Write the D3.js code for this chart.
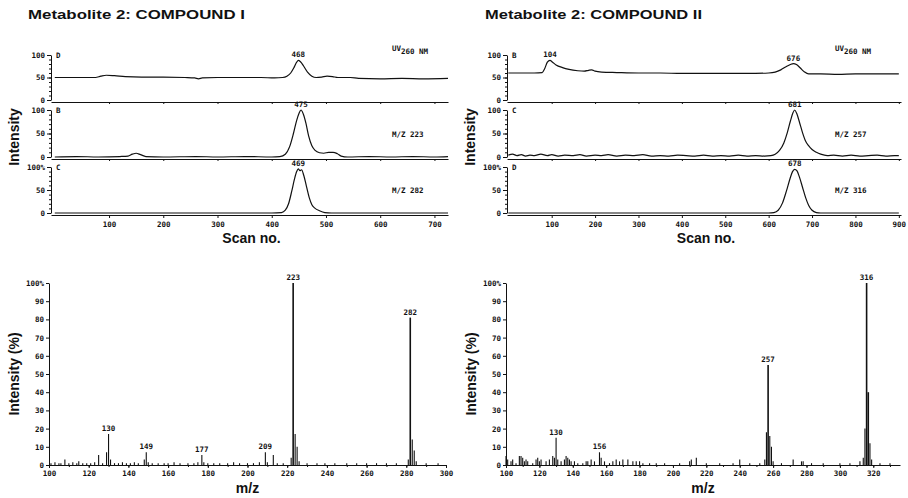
<!DOCTYPE html>
<html>
<head>
<meta charset="utf-8">
<script src="https://cdn.jsdelivr.net/npm/d3@7"></script>
<style>
  body { margin: 0; background: #fff; }
  svg { display: block; }
  .tk { font-family: "DejaVu Sans Mono", monospace; font-weight: bold; font-size: 7.5px; fill: #111; }
  .ttl { font-family: "Liberation Sans", Arial, sans-serif; font-weight: bold; font-size: 13px; fill: #111; }
  .axt { font-family: "Liberation Sans", Arial, sans-serif; font-weight: bold; font-size: 14px; fill: #111; }
</style>
</head>
<body>
<svg id="fig" width="908" height="498"></svg>
<script>
// ---- data ----
const titles = ['Metabolite 2: COMPOUND I', 'Metabolite 2: COMPOUND II'];

const scanTicks1 = [100, 200, 300, 400, 500, 600, 700];
const scanTicks2 = [100, 200, 300, 400, 500, 600, 700, 800, 900];
const pctTicks = [0, 50, 100];
const mzTicks1 = [100, 120, 140, 160, 180, 200, 220, 240, 260, 280, 300];
const mzTicks2 = [100, 120, 140, 160, 180, 200, 220, 240, 260, 280, 300, 320];
const relTicks = [0, 10, 20, 30, 40, 50, 60, 70, 80, 90, 100];

// compound I chromatograms [scan, intensity]
const c1Uv = [[0,50],[30,50],[60,50],[75,50],[85,53],[95,55],[110,54],[130,52],[160,51],[200,51],[240,50],[258,49],[265,47],[272,49],[300,50],[340,50],[380,50],[405,49],[420,50],[428,53],[435,60],[441,72],[446,84],[449,88],[453,85],[459,75],[466,62],[474,53],[482,50],[492,51],[502,53],[512,52],[522,50],[545,50],[560,48],[600,47],[640,48],[680,47],[725,48]];
const c1Mz223 = [[0,0],[40,1],[80,0],[120,1],[135,2],[143,6],[150,8],[158,5],[168,1],[200,0],[260,1],[300,0],[350,1],[400,0],[415,1],[425,6],[433,22],[440,50],[446,78],[450,92],[454,100],[458,92],[463,72],[468,45],[474,24],[480,14],[488,9],[496,8],[505,10],[513,10],[521,7],[528,2],[540,0],[580,1],[620,0],[660,1],[700,0],[725,1]];
const c1Mz282 = [[0,0],[100,0],[200,0],[300,0],[400,0],[418,1],[425,6],[431,20],[437,48],[442,74],[446,90],[449,96],[452,92],[455,94],[459,82],[464,58],[469,34],[474,18],[480,10],[488,5],[498,1],[510,0],[600,0],[725,0]];

// compound II chromatograms
const c2Uv = [[0,60],[30,60],[60,60],[78,61],[84,70],[90,84],[96,88],[102,84],[110,78],[125,72],[140,68],[160,65],[175,64],[185,66],[192,67],[200,64],[215,62],[250,61],[300,60],[350,60],[400,59],[450,59],[500,59],[550,59],[600,60],[615,62],[628,67],[640,74],[650,79],[657,81],[664,79],[673,71],[682,63],[692,58],[720,58],[760,57],[800,58],[850,58],[900,58]];
const c2Mz257 = [[0,4],[10,6],[20,3],[30,5],[40,2],[50,4],[60,3],[75,6],[90,3],[100,5],[115,2],[130,4],[150,3],[165,5],[180,2],[200,4],[215,3],[230,5],[250,2],[270,4],[290,3],[310,5],[330,2],[350,3],[370,2],[390,4],[410,3],[430,2],[450,4],[470,2],[490,3],[510,2],[530,4],[550,2],[570,3],[590,2],[605,3],[615,6],[625,14],[635,30],[643,52],[650,76],[656,94],[660,100],[665,92],[671,74],[678,52],[685,34],[692,24],[700,16],[710,10],[720,6],[735,3],[750,4],[770,2],[790,4],[810,2],[830,3],[850,4],[870,2],[890,3],[900,3]];
const c2Mz316 = [[0,0],[100,0],[200,0],[300,0],[400,0],[500,0],[600,0],[612,1],[622,6],[632,22],[641,48],[649,74],[655,90],[660,95],[665,92],[671,78],[678,56],[685,34],[692,17],[700,6],[710,1],[720,0],[800,0],[900,0]];

// peak labels written on the traces (scan numbers as printed)
const c1Peaks = [['468'], ['475'], ['469']];
const c2Peaks = [['104', '676'], ['681'], ['678']];

// mass spectra [m/z, relative intensity %]
const ms1 = [[101,1],[103,1.5],[105,1],[106,1],[108,3],[110,1],[112,1.5],[114,1],[115,2],[117,1],[119,1],[121,1],[123,1.5],[125,5.5],[127,1],[129,7],[130,17],[131,3],[133,1],[135,1],[137,1.5],[139,1],[141,1],[143,1.5],[145,1],[148,3],[149,7],[150,1.5],[152,1],[155,1],[158,1],[160,1],[163,1.5],[166,1],[170,1],[173,1],[175,1.5],[177,5.5],[178,1.5],[180,1],[183,1],[186,1],[190,1],[193,1.5],[196,1],[200,1],[203,1],[206,1.5],[209,7],[210,1.5],[213,5.5],[215,1],[218,1],[222,4],[223,100],[224,17],[225,10],[226,2],[230,1],[235,1],[239,1],[244,1],[250,1],[255,1],[260,1],[265,1],[270,1],[275,1],[281,3],[282,81],[283,14],[284,8],[285,2],[290,1],[296,1]];
const ms2 = [[100,5],[101,3],[103,2],[104,3],[106,1],[108,5],[109,5],[110,4],[111,2],[112,3],[113,2],[116,1],[118,3],[119,4],[120,2],[121,3],[124,2],[126,3],[128,5],[129,4],[130,15],[131,3],[133,2],[135,3],[136,5],[137,4],[138,3],[139,2],[141,2],[143,1],[146,1],[148,2],[149,2],[151,3],[153,2],[156,7],[157,4],[159,2],[162,1],[164,2],[166,3],[168,2],[170,3],[173,3],[176,2],[178,2],[180,2],[182,1],[186,1],[190,1],[195,1],[204,1],[210,2],[211,3],[214,4],[220,1],[228,1],[236,1],[240,3],[246,1],[252,1],[255,3],[256,18],[257,55],[258,16],[259,10],[260,2],[265,1],[272,3],[277,2],[278,2],[283,1],[290,1],[300,1],[306,1],[312,2],[314,4],[315,20],[316,100],[317,40],[318,12],[319,3],[324,1],[330,1]];
const ms1Labels = [130, 149, 177, 209, 223, 282];
const ms2Labels = [130, 156, 257, 316];

// ---- drawing ----
const svg = d3.select('#fig');
const ink = '#111';

function styleAxis(g) {
  g.attr('font-family', null).attr('font-size', null);
  g.selectAll('path, line').attr('stroke', ink).attr('stroke-width', 1);
  g.selectAll('text').attr('class', 'tk');
}

function drawChrom(opt) {
  const x = d3.scaleLinear().domain(opt.domain).range([opt.left, opt.right]);
  const g = svg.append('g');

  opt.traces.forEach((tr, i) => {
    const [top, bottom] = opt.bands[i];
    const y = d3.scaleLinear().domain([0, 100]).range([bottom, top]);

    g.append('g')
      .attr('transform', `translate(${opt.left},0)`)
      .call(d3.axisLeft(y).tickValues(d3.range(0, 101, 10)).tickSize(2).tickSizeOuter(0).tickFormat(''))
      .call(styleAxis);
    g.append('g')
      .attr('transform', `translate(${opt.left},0)`)
      .call(d3.axisLeft(y).tickValues(pctTicks).tickSize(4).tickSizeOuter(0).tickPadding(2)
        .tickFormat((d) => d === 100 ? tr.top : d))
      .call(styleAxis)
      .call((a) => a.select('.domain').remove());

    const last = i === opt.traces.length - 1;
    g.append('g')
      .attr('transform', `translate(0,${bottom + 2})`)
      .call(d3.axisBottom(x).tickValues(opt.ticks).tickSize(last ? 3 : 2).tickSizeOuter(0)
        .tickPadding(4).tickFormat(last ? d3.format('d') : ''))
      .call(styleAxis);

    const line = d3.line()
      .x((d) => x(d[0]))
      .y((d) => y(d[1]))
      .curve(d3.curveMonotoneX);
    g.append('path')
      .datum(tr.data)
      .attr('d', line)
      .attr('fill', 'none')
      .attr('stroke', ink)
      .attr('stroke-width', 1.2);

    g.append('text').attr('class', 'tk')
      .attr('x', opt.left + 5).attr('y', top + 3)
      .text(tr.letter);

    // peak labels at the local maximum nearest the printed scan number
    tr.peaks.forEach((p) => {
      const n = +p;
      const near = tr.data.filter((d) => Math.abs(d[0] - n) <= 40);
      const apex = near.reduce((a, b) => (b[1] > a[1] ? b : a));
      g.append('text').attr('class', 'tk')
        .attr('x', x(apex[0])).attr('y', y(apex[1]) - 3)
        .attr('text-anchor', 'middle')
        .text(p);
    });

    const lab = g.append('text').attr('class', 'tk')
      .attr('x', opt.right - opt.labelInset)
      .attr('y', tr.uv ? top - 4 : y(50) + 3);
    if (tr.uv) {
      lab.append('tspan').text('UV');
      lab.append('tspan').attr('dy', 3).text('260 NM');
    } else {
      lab.text(tr.label);
    }
  });

  svg.append('text').attr('class', 'axt')
    .attr('transform', `translate(${opt.left - 32},${(opt.bands[0][0] + opt.bands[2][1]) / 2 + 3}) rotate(-90)`)
    .attr('text-anchor', 'middle')
    .text('Intensity');
  svg.append('text').attr('class', 'axt')
    .attr('x', opt.left + (opt.right - opt.left) / 2 + 2).attr('y', opt.bands[2][1] + 30)
    .attr('text-anchor', 'middle')
    .text('Scan no.');
}

function drawSpec(opt) {
  const x = d3.scaleLinear().domain(opt.domain).range([opt.left, opt.right]);
  const y = d3.scaleLinear().domain([0, 100]).range([opt.bottom, opt.top]);
  const g = svg.append('g');

  g.append('g')
    .attr('transform', `translate(${opt.left},0)`)
    .call(d3.axisLeft(y).tickValues(relTicks).tickSize(3).tickSizeOuter(0).tickPadding(2)
      .tickFormat((d) => d === 100 ? '100%' : d))
    .call(styleAxis);

  g.append('g')
    .attr('transform', `translate(0,${opt.bottom})`)
    .call(d3.axisBottom(x).tickValues(d3.range(opt.domain[0], opt.domain[1] + 1, 10)).tickSize(2).tickSizeOuter(0).tickFormat(''))
    .call(styleAxis);
  g.append('g')
    .attr('transform', `translate(0,${opt.bottom})`)
    .call(d3.axisBottom(x).tickValues(opt.ticks).tickSize(3).tickSizeOuter(0).tickPadding(3).tickFormat(d3.format('d')))
    .call(styleAxis)
    .call((a) => a.select('.domain').remove());

  g.selectAll('line.stick')
    .data(opt.data)
    .enter()
    .append('line')
    .attr('class', 'stick')
    .attr('x1', (d) => x(d[0]))
    .attr('x2', (d) => x(d[0]))
    .attr('y1', y(0))
    .attr('y2', (d) => y(d[1]))
    .attr('stroke', ink)
    .attr('stroke-width', (d) => d[1] > 30 ? 1.6 : 1.1);

  opt.labels.forEach((m) => {
    const pk = opt.data.find((d) => d[0] === m);
    g.append('text').attr('class', 'tk')
      .attr('x', x(m)).attr('y', y(pk[1]) - 3)
      .attr('text-anchor', 'middle')
      .text(m);
  });

  svg.append('text').attr('class', 'axt')
    .attr('transform', `translate(${opt.left - 30},${(opt.top + opt.bottom) / 2}) rotate(-90)`)
    .attr('text-anchor', 'middle')
    .text('Intensity (%)');
  svg.append('text').attr('class', 'axt')
    .attr('x', opt.left + (opt.right - opt.left) / 2).attr('y', opt.bottom + 28)
    .attr('text-anchor', 'middle')
    .text('m/z');
}

// titles
[[28, titles[0]], [485, titles[1]]].forEach(([tx, t]) => {
  svg.append('text').attr('class', 'ttl')
    .attr('x', tx).attr('y', 19)
    .attr('textLength', 217).attr('lengthAdjust', 'spacingAndGlyphs')
    .text(t);
});

const bands = [[55, 100], [110, 157], [167, 213]];

drawChrom({
  domain: [-7, 725], left: 51, right: 448, ticks: scanTicks1, bands, labelInset: 56,
  traces: [
    { data: c1Uv, letter: 'D', top: '100', uv: true, peaks: c1Peaks[0] },
    { data: c1Mz223, letter: 'B', top: '100', label: 'M/Z 223', peaks: c1Peaks[1] },
    { data: c1Mz282, letter: 'C', top: '100%', label: 'M/Z 282', peaks: c1Peaks[2] },
  ],
});

drawChrom({
  domain: [-3, 905], left: 507, right: 901, ticks: scanTicks2, bands, labelInset: 66,
  traces: [
    { data: c2Uv, letter: 'B', top: '100', uv: true, peaks: c2Peaks[0] },
    { data: c2Mz257, letter: 'C', top: '100', label: 'M/Z 257', peaks: c2Peaks[1] },
    { data: c2Mz316, letter: 'D', top: '100%', label: 'M/Z 316', peaks: c2Peaks[2] },
  ],
});

drawSpec({ domain: [100, 300], left: 49, right: 446, top: 283, bottom: 465, ticks: mzTicks1, data: ms1, labels: ms1Labels });
drawSpec({ domain: [100, 336], left: 506, right: 900, top: 283, bottom: 465, ticks: mzTicks2, data: ms2, labels: ms2Labels });
</script>
</body>
</html>
